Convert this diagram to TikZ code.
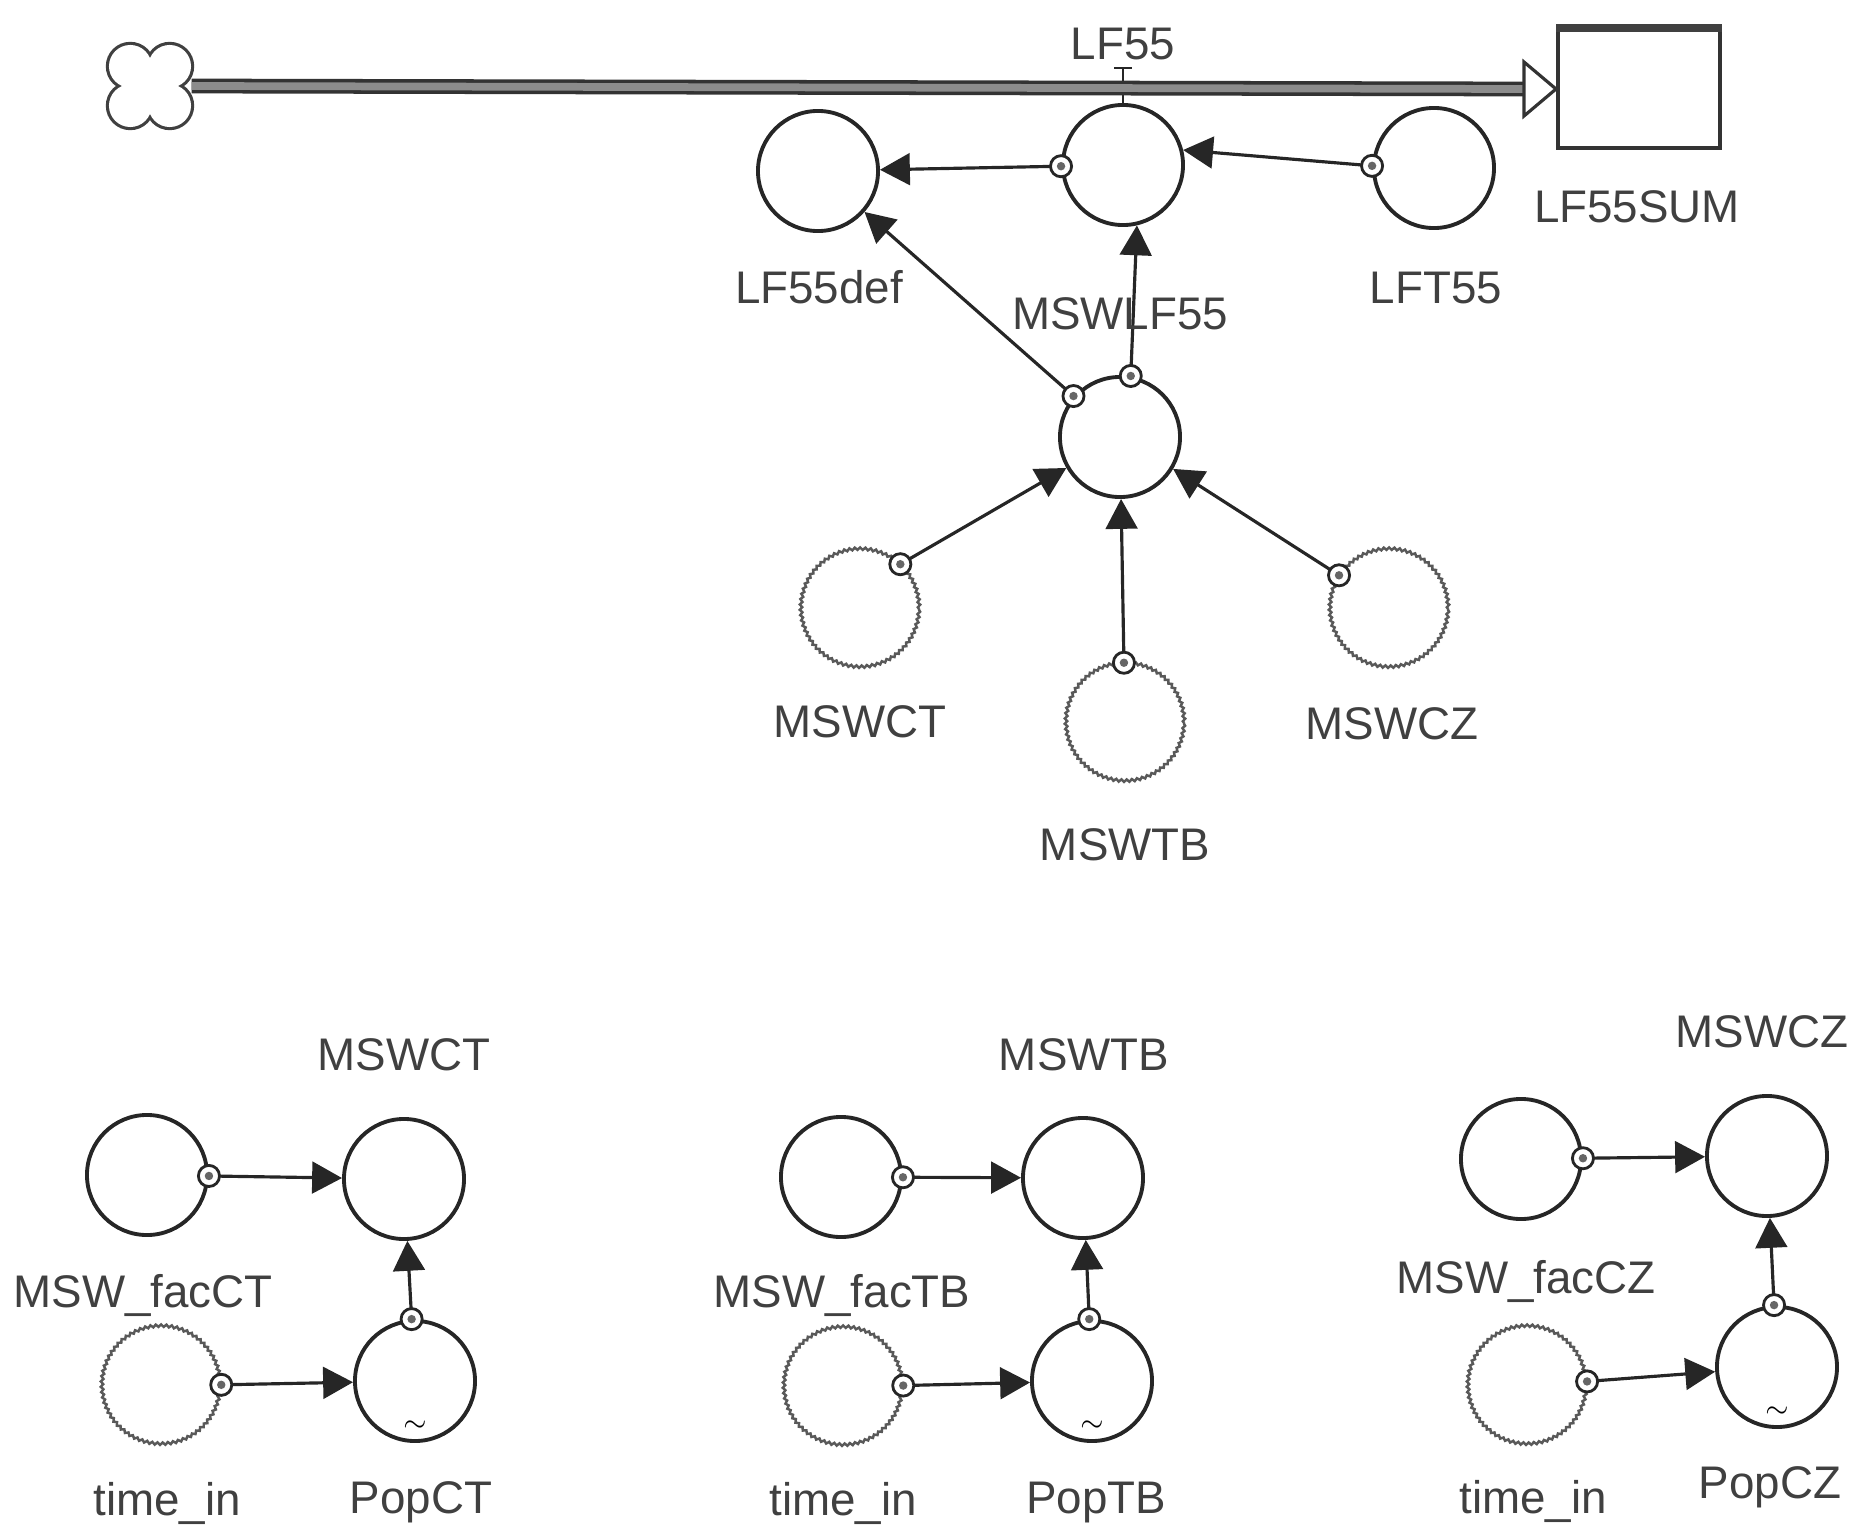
\documentclass[tikz,border=0pt]{standalone}
\usepackage{fontspec}
\setmainfont{Liberation Sans}
\usetikzlibrary{arrows.meta}
\usetikzlibrary{decorations.pathmorphing}
\tikzset{
	conv/.style={circle, draw=black!85, line width=1.1pt, minimum size=1.2cm, inner sep=0pt},
	ghost/.style={circle, draw=black!65, line width=0.7pt, minimum size=1.18cm, inner sep=0pt,
		decorate, decoration={snake, amplitude=0.35pt, segment length=1.5pt}},
	stock/.style={rectangle, draw=black!80, line width=1.1pt, minimum width=1.62cm, minimum height=1.18cm},
	lbl/.style={font=\fontsize{13}{15}\selectfont, text=black!75, inner sep=0pt, anchor=base},
	link/.style={draw=black!85, line width=0.9pt, -{Triangle[length=8.5pt,width=9pt]}},
	tailmark/.style={circle, draw=black!85, fill=white, line width=0.8pt, minimum size=6pt, inner sep=0pt,
		path picture={\fill[black!60] (path picture bounding box.center) circle (1.2pt);}},
	pipe/.style={draw=black!80, line width=1pt, double=black!45, double distance=2.2pt},
}
\begin{document}
\begin{tikzpicture}[x=0.01cm, y=-0.01cm]
		\useasboundingbox (0,0) rectangle (1853,1527);
		% flow LF55 into the stock
		\node[minimum size=0.82cm, inner sep=0pt] (src) at (150,86) {};
		\foreach \dx/\dy in {-1/-1,-1/1,1/-1,1/1}
			\draw[black!75, line width=1.8pt] ([shift={(\dx*0.197cm,\dy*0.197cm)}]src.center) circle (0.213cm);
		\foreach \dx/\dy in {-1/-1,-1/1,1/-1,1/1}
			\fill[white] ([shift={(\dx*0.197cm,\dy*0.197cm)}]src.center) circle (0.213cm);
		\fill[white] ([shift={(-0.2cm,-0.2cm)}]src.center) rectangle ([shift={(0.2cm,0.2cm)}]src.center);
		\node[stock] (sum) at (1639,89) {};
		\draw[black!75, line width=2.2pt] (sum.north west) -- (sum.north east);
		\coordinate (flowend) at ([xshift=-0.32cm]sum.west);
		\node[conv] (lf55) at (1123,165) {};
		\coordinate (vtop) at (1123,68);
		\draw[black!85, line width=0.8pt] (lf55) -- (vtop);
		\draw[black!85, line width=0.8pt] ([xshift=-0.09cm]vtop) -- ([xshift=0.09cm]vtop);
		\draw[pipe] (src.east) -- (flowend);
		\draw[draw=black!80, line width=0.9pt, fill=white] (sum.west) -- ([shift={(-0.32cm,0.27cm)}]sum.west) -- ([shift={(-0.32cm,-0.27cm)}]sum.west) -- cycle;
		
		\node[conv] (lf55def) at (818,171) {};
		\node[conv] (lft55) at (1434,168) {};
		\node[conv] (mswlf55) at (1120,437) {};
		\node[ghost] (gct) at (860,609) {};
		\node[ghost] (gtb) at (1125,723) {};
		\node[ghost] (gcz) at (1389,609) {};
		
		\draw[link] (lf55) -- (lf55def) node[pos=0, tailmark] (k1) {};
		\draw[link] (lft55.178) -- (lf55.14) node[pos=0, tailmark] (k2) {};
		\draw[link] (mswlf55) -- (lf55def) node[pos=0, tailmark] (k3) {};
		\draw[link] (mswlf55.80) -- (lf55.-77) node[pos=0, tailmark] (k4) {};
		\draw[link] (gct.48) -- (mswlf55.210) node[pos=0, tailmark] (k5) {};
		\draw[link] (gtb) -- (mswlf55) node[pos=0, tailmark] (k6) {};
		\draw[link] (gcz.146) -- (mswlf55.-31) node[pos=0, tailmark] (k7) {};
		
		\node[lbl] (tlf55) at (1123,59) {LF55};
		\node[lbl] (tsum) at (1637,222) {LF55SUM};
		\node[lbl] (tlf55def) at (819,304) {LF55def};
		\node[lbl] (tlft55) at (1436,304) {LFT55};
		\node[lbl] (tmswlf55) at (1120,329) {MSWLF55};
		\node[lbl] (tgct) at (860,737) {MSWCT};
		\node[lbl] (tgtb) at (1125,860) {MSWTB};
		\node[lbl] (tgcz) at (1392,739) {MSWCZ};
		
		% MSWCT
		\node[conv] (facct) at (147,1175) {};
		\node[conv] (mswct) at (404,1179) {};
		\node[ghost] (timect) at (161,1386) {};
		\node[conv] (popct) at (415,1381) {};
		\node[font=\footnotesize, inner sep=0pt] (sct) at ([yshift=-0.45cm]popct.center) {$\sim$};
		\draw[link] (facct) -- (mswct) node[pos=0, tailmark] (k8) {};
		\draw[link] (timect) -- (popct) node[pos=0, tailmark] (k9) {};
		\draw[link] (popct) -- (mswct) node[pos=0, tailmark] (k10) {};
		\node[lbl] (tmswct) at (404,1070) {MSWCT};
		\node[lbl] (tfacct) at (143,1307) {MSW\_facCT};
		\node[lbl] (ttimect) at (167,1515) {time\_in};
		\node[lbl] (tpopct) at (421,1513) {PopCT};
		
		% MSWTB
		\node[conv] (factb) at (841,1177) {};
		\node[conv] (mswtb) at (1083,1178) {};
		\node[ghost] (timetb) at (843,1387) {};
		\node[conv] (poptb) at (1092,1381) {};
		\node[font=\footnotesize, inner sep=0pt] (stb) at ([yshift=-0.45cm]poptb.center) {$\sim$};
		\draw[link] (factb) -- (mswtb) node[pos=0, tailmark] (k11) {};
		\draw[link] (timetb) -- (poptb) node[pos=0, tailmark] (k12) {};
		\draw[link] (poptb) -- (mswtb) node[pos=0, tailmark] (k13) {};
		\node[lbl] (tmswtb) at (1084,1070) {MSWTB};
		\node[lbl] (tfactb) at (842,1307) {MSW\_facTB};
		\node[lbl] (ttimetb) at (843,1515) {time\_in};
		\node[lbl] (tpoptb) at (1096,1513) {PopTB};
		
		% MSWCZ
		\node[conv] (faccz) at (1521,1159) {};
		\node[conv] (mswcz) at (1767,1156) {};
		\node[ghost] (timecz) at (1527,1386) {};
		\node[conv] (popcz) at (1777,1367) {};
		\node[font=\footnotesize, inner sep=0pt] (scz) at ([yshift=-0.45cm]popcz.center) {$\sim$};
		\draw[link] (faccz) -- (mswcz) node[pos=0, tailmark] (k14) {};
		\draw[link] (timecz) -- (popcz) node[pos=0, tailmark] (k15) {};
		\draw[link] (popcz) -- (mswcz) node[pos=0, tailmark] (k16) {};
		\node[lbl] (tmswcz) at (1762,1047) {MSWCZ};
		\node[lbl] (tfaccz) at (1526,1293) {MSW\_facCZ};
		\node[lbl] (ttimecz) at (1533,1513) {time\_in};
		\node[lbl] (tpopcz) at (1770,1498) {PopCZ};
	\end{tikzpicture}
\end{document}
